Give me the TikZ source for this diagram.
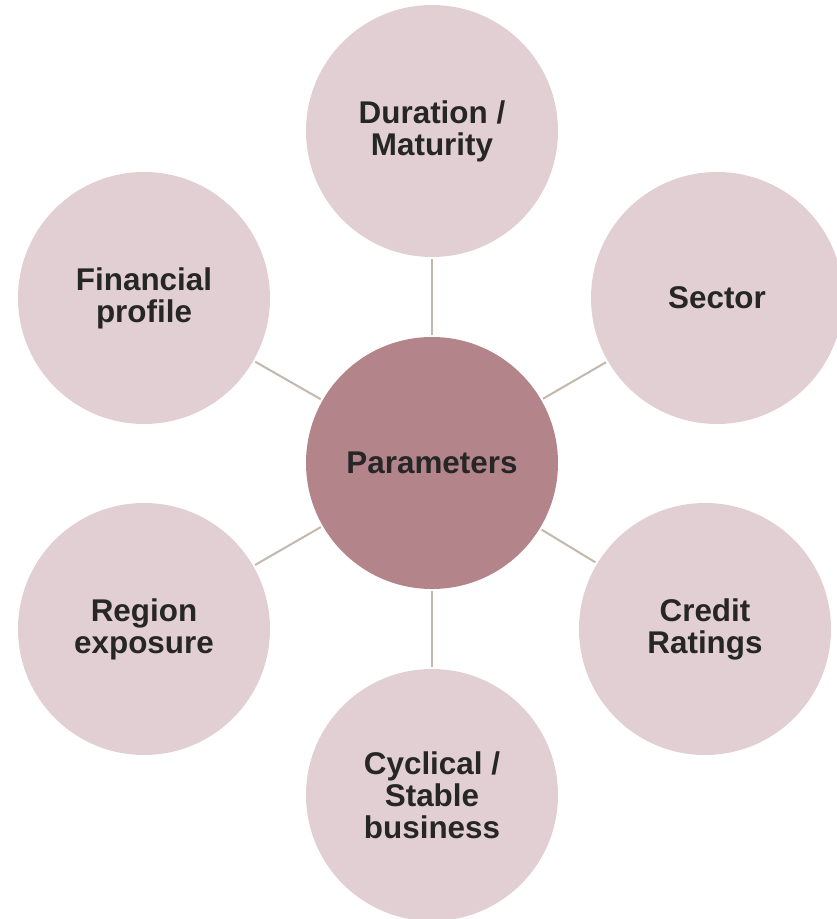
\documentclass[tikz,border=0pt]{standalone}
\usepackage{fontspec}
\setmainfont{Liberation Sans}
\usetikzlibrary{positioning}

\definecolor{petal}{RGB}{225,207,211}
\definecolor{hub}{RGB}{179,132,138}
\definecolor{spoke}{RGB}{196,184,172}
\definecolor{inkdark}{RGB}{38,38,38}

\begin{document}
\begin{tikzpicture}[x=1pt, y=1pt,
    bubble/.style={circle, fill=petal, minimum size=252pt, inner sep=0pt,
        align=center, text=inkdark,
        font=\fontsize{31.4}{32}\selectfont\bfseries},
    hubble/.style={bubble, fill=hub},
    spokeline/.style={draw=spoke, line width=2pt, shorten >=2pt, shorten <=2pt}]
    \useasboundingbox (0,0) rectangle (836,919);

    \node [hubble] (params) at (432,456) {Parameters};

    \node [bubble] (duration)  at (432,788) {Duration /\\Maturity};
    \node [bubble] (sector)    at (717,621) {Sector};
    \node [bubble] (credit)    at (705,290) {Credit\\Ratings};
    \node [bubble] (cyclical)  at (432,124) {Cyclical /\\Stable\\business};
    \node [bubble] (region)    at (144,290) {Region\\exposure};
    \node [bubble] (financial) at (144,621) {Financial\\profile};

    \foreach \outer in {duration, sector, credit, cyclical, region, financial}
        \draw [spokeline] (params) -- (\outer);
\end{tikzpicture}
\end{document}
